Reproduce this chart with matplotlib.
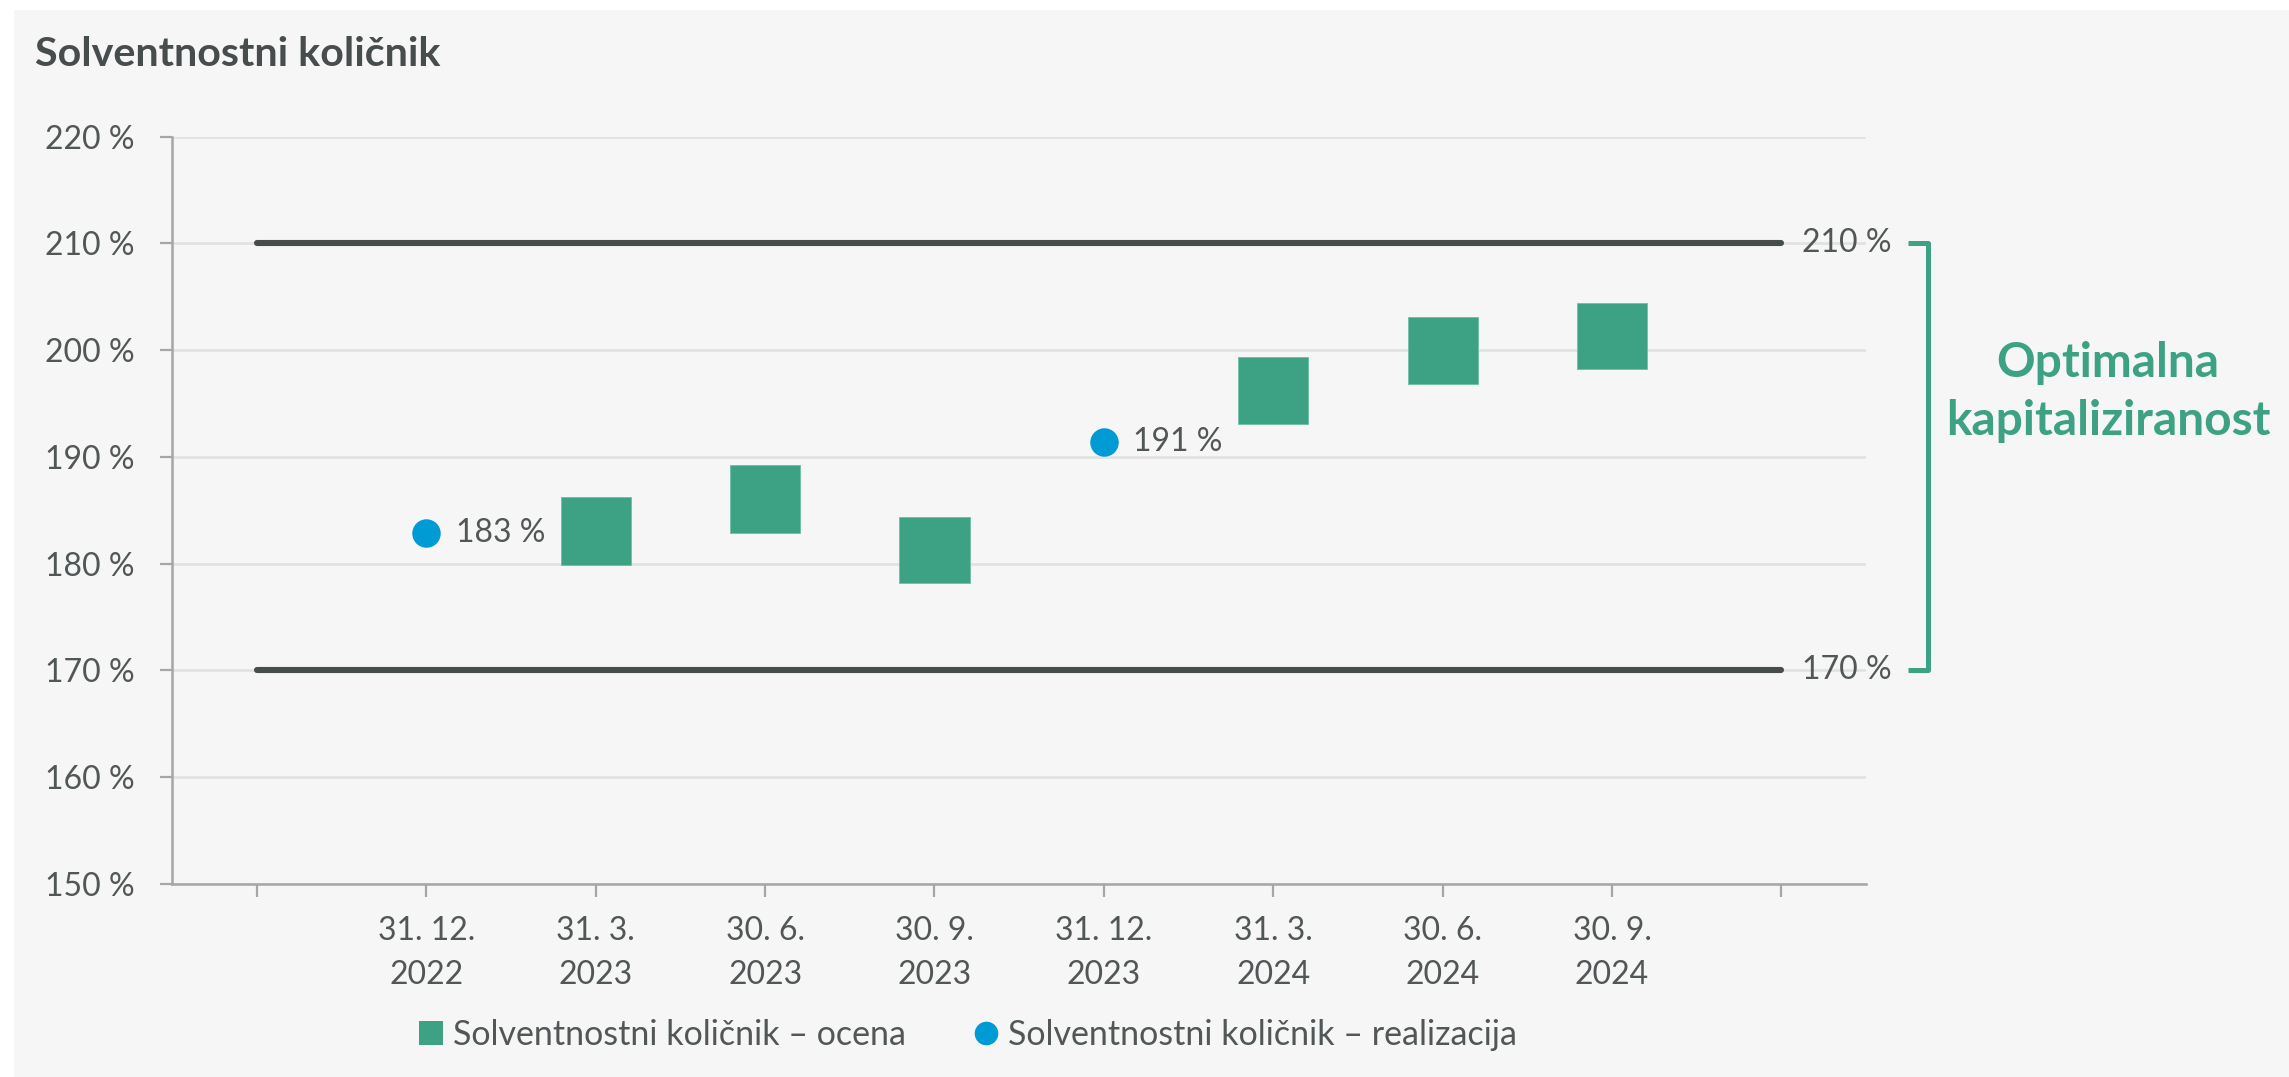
"""
Solventnostni količnik: ocena (razpon) in realizacija glede na optimalni pas kapitaliziranosti.
"""

import matplotlib
matplotlib.use("Agg")
import matplotlib.pyplot as plt
from matplotlib.lines import Line2D
from matplotlib.patches import Rectangle
import numpy as np

FONT = "Lato"
plt.rcParams["font.family"] = [FONT, "DejaVu Sans"]

PANEL_BG   = "#f6f6f6"
TEXT_DARK  = "#474c4c"
TEXT_TICK  = "#515656"
GRID_COLOR = "#e2e2e2"
SPINE_COL  = "#a6a6a6"
BAND_LINE  = "#474c4c"
GREEN      = "#3ca283"
BLUE       = "#009ad5"

# ── data ──────────────────────────────────────────────────────────────────────
CATEGORIES = ["31. 12.\n2022", "31. 3.\n2023", "30. 6.\n2023", "30. 9.\n2023",
              "31. 12.\n2023", "31. 3.\n2024", "30. 6.\n2024", "30. 9.\n2024"]
EST_LOW  = [np.nan, 179.9, 182.9, 178.2, np.nan, 193.1, 196.8, 198.2]
EST_HIGH = [np.nan, 186.2, 189.2, 184.4, np.nan, 199.4, 203.1, 204.4]
ACTUAL   = [182.9, np.nan, np.nan, np.nan, 191.4, np.nan, np.nan, np.nan]
OPTIMAL_BOUNDS = [170, 210]
Y_TICKS = [150, 160, 170, 180, 190, 200, 210, 220]

LABEL_EST = "Solventnostni količnik – ocena"
LABEL_ACT = "Solventnostni količnik – realizacija"

fig = plt.figure(figsize=(22.89, 10.77), dpi=100, facecolor="white")
fig.patches.append(Rectangle((14 / 2289, 0), 1, 1 - 10 / 1077,
                             transform=fig.transFigure, facecolor=PANEL_BG,
                             edgecolor="none", zorder=-10))

ax = fig.add_axes([0.0753, 0.1795, 0.7399, 0.6936])
ax.set_facecolor("none")

x = np.arange(1, len(CATEGORIES) + 1)
low = np.array(EST_LOW)
high = np.array(EST_HIGH)
actual = np.array(ACTUAL)

# optimal band boundaries
for b in OPTIMAL_BOUNDS:
    ax.plot([0, len(CATEGORIES) + 1], [b, b], color=BAND_LINE, lw=4.4,
            solid_capstyle="round", zorder=3)
    ax.annotate(f"{b} %", xy=(len(CATEGORIES) + 1, b), xytext=(15, 0),
                textcoords="offset points", ha="left", va="center",
                fontsize=23, color=TEXT_TICK, annotation_clip=False)

# estimate ranges as floating bars
ax.bar(x, high - low, bottom=low, width=0.414, color=GREEN,
       edgecolor="#6fbfa5", linewidth=0.6, zorder=4)

# realised values
ax.plot(x, actual, linestyle="none", marker="o", markersize=20.5,
        color=BLUE, markeredgewidth=0, zorder=5)
for xi, v in zip(x, actual):
    if np.isnan(v):
        continue
    ax.annotate(f"{v:.0f} %", xy=(xi, v), xytext=(21, 0),
                textcoords="offset points", ha="left", va="center",
                fontsize=23, color=TEXT_TICK, zorder=6)

# ── axes ─────────────────────────────────────────────────────────────────────
ax.set_xlim(-0.5, len(CATEGORIES) + 1.5)
ax.set_ylim(Y_TICKS[0], Y_TICKS[-1])
ax.set_xticks(np.arange(0, len(CATEGORIES) + 2))
ax.set_xticklabels([""] + CATEGORIES + [""], fontsize=23, color=TEXT_TICK,
                   linespacing=1.6)
ax.set_yticks(Y_TICKS)
ax.set_yticklabels([f"{t} %" for t in Y_TICKS], fontsize=23, color=TEXT_TICK)
ax.tick_params(axis="x", length=9, width=1.6, color=SPINE_COL, pad=14)
ax.tick_params(axis="y", length=9, width=1.6, color=SPINE_COL, pad=18)
ax.yaxis.grid(True, color=GRID_COLOR, linewidth=2, zorder=0)
ax.set_axisbelow(True)
for side in ("top", "right"):
    ax.spines[side].set_visible(False)
for side in ("left", "bottom"):
    ax.spines[side].set_color(SPINE_COL)
    ax.spines[side].set_linewidth(1.8)

# bracket marking the optimal range
bx0, bx1 = 9.746, 9.864
ax.plot([bx0, bx1, bx1, bx0],
        [OPTIMAL_BOUNDS[1], OPTIMAL_BOUNDS[1], OPTIMAL_BOUNDS[0], OPTIMAL_BOUNDS[0]],
        color=GREEN, lw=3.6, solid_joinstyle="round", solid_capstyle="butt",
        clip_on=False, zorder=3)
fig.text(0.921, 0.636, "Optimalna\nkapitaliziranost", ha="center", va="center",
         fontsize=34.5, fontweight="bold", color=GREEN, linespacing=1.4)

# ── title ────────────────────────────────────────────────────────────────────
fig.text(0.0153, 0.949, "Solventnostni količnik", ha="left", va="center",
         fontsize=29.7, fontweight="bold", color=TEXT_DARK)

# ── legend ───────────────────────────────────────────────────────────────────
handles = [
    Line2D([], [], linestyle="none", marker="s", markersize=17, color=GREEN,
           markeredgewidth=0, label=LABEL_EST),
    Line2D([], [], linestyle="none", marker="o", markersize=17, color=BLUE,
           markeredgewidth=0, label=LABEL_ACT),
]
fig.legend(handles=handles, loc="center", bbox_to_anchor=(0.423, 0.039), ncol=2,
           frameon=False, fontsize=24.5, labelcolor=TEXT_TICK, handlelength=0.7,
           handletextpad=0.3, columnspacing=2.0)

fig.savefig("out.png", dpi=100, facecolor="white")
